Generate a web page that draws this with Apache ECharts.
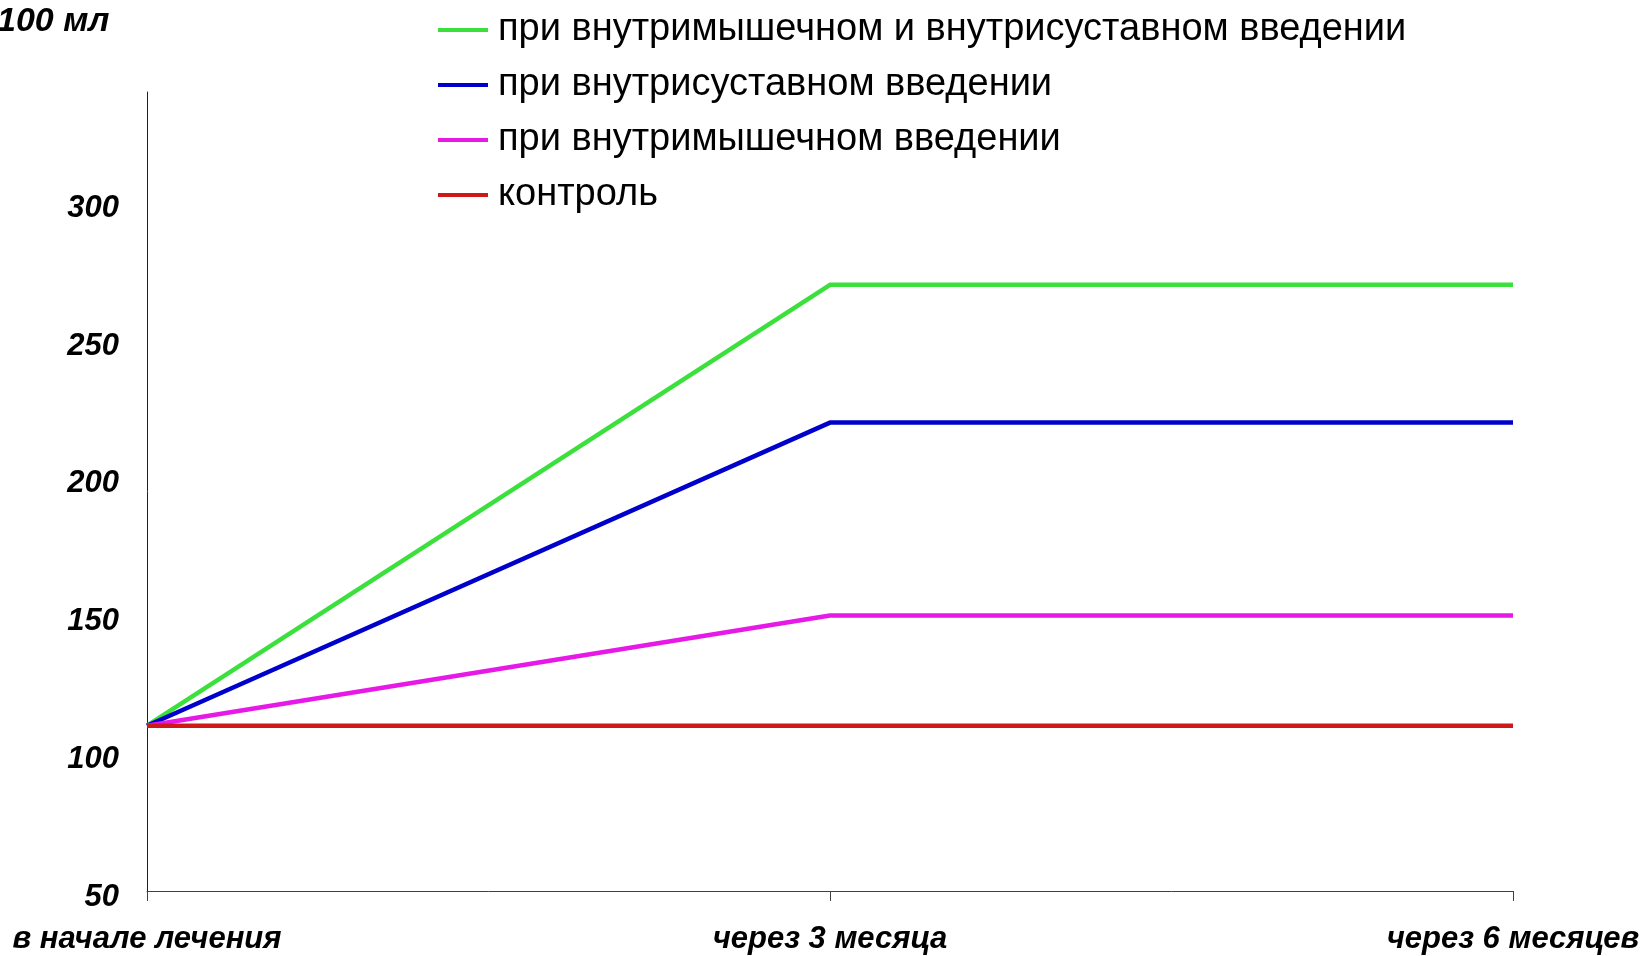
<!DOCTYPE html>
<html>
<head>
<meta charset="utf-8">
<style>
html,body{margin:0;padding:0;background:#fff;}
#chart{width:1640px;height:956px;}
</style>
<script src="https://cdn.jsdelivr.net/npm/echarts@6/dist/echarts.min.js"></script>
</head>
<body>
<div id="chart"></div>
<script>
const categories = ['в начале лечения', 'через 3 месяца', 'через 6 месяцев'];
const seriesNames = [
  'при внутримышечном и внутрисуставном введении',
  'при внутрисуставном введении',
  'при внутримышечном введении',
  'контроль'
];
const greenValues = [110, 270, 270];
const blueValues = [110, 220, 220];
const magentaValues = [110, 150, 150];
const redValues = [110, 110, 110];
const seriesColors = ['#3ce03c', '#0000cc', '#e619e6', '#d01818'];
const unitLabel = '100 мл';

const allValues = [greenValues, blueValues, magentaValues, redValues];
const chart = echarts.init(document.getElementById('chart'));
const labelFont = {fontFamily: 'Liberation Sans', fontWeight: 'bold', fontStyle: 'italic', fontSize: 31, color: '#000'};
chart.setOption({
  animation: false,
  backgroundColor: '#fff',
  title: {
    text: unitLabel, left: -8, top: 0,
    textStyle: Object.assign({}, labelFont, {fontSize: 34})
  },
  legend: {
    orient: 'vertical', left: 433, top: 5,
    itemWidth: 50, itemHeight: 4, itemGap: 15,
    icon: 'rect',
    data: seriesNames,
    textStyle: {fontFamily: 'Liberation Sans', fontSize: 38, color: '#000', lineHeight: 40, padding: [0,0,0,5]}
  },
  grid: {left: 147, right: 127, top: 92, bottom: 65, containLabel: false, outerBoundsMode: 'none'},
  xAxis: {
    type: 'category', data: categories, boundaryGap: false,
    axisLine: {lineStyle: {color: '#404040', width: 1}},
    axisTick: {show: true, length: 10, lineStyle: {color: '#404040'}},
    axisLabel: Object.assign({margin: 33, interval: 0}, labelFont),
    splitLine: {show: false}
  },
  yAxis: {
    type: 'value', min: 50, max: 340, interval: 50,
    axisLine: {show: true, lineStyle: {color: '#202020', width: 1}},
    axisTick: {show: false},
    splitLine: {show: false},
    axisLabel: Object.assign({margin: 28, showMaxLabel: false, verticalAlign: 'top', lineHeight: 12}, labelFont)
  },
  series: seriesNames.map((n, i) => ({
    name: n, type: 'line', data: allValues[i], symbol: 'none',
    itemStyle: {color: seriesColors[i]},
    lineStyle: {color: seriesColors[i], width: 4.5}
  }))
});
</script>
</body>
</html>
